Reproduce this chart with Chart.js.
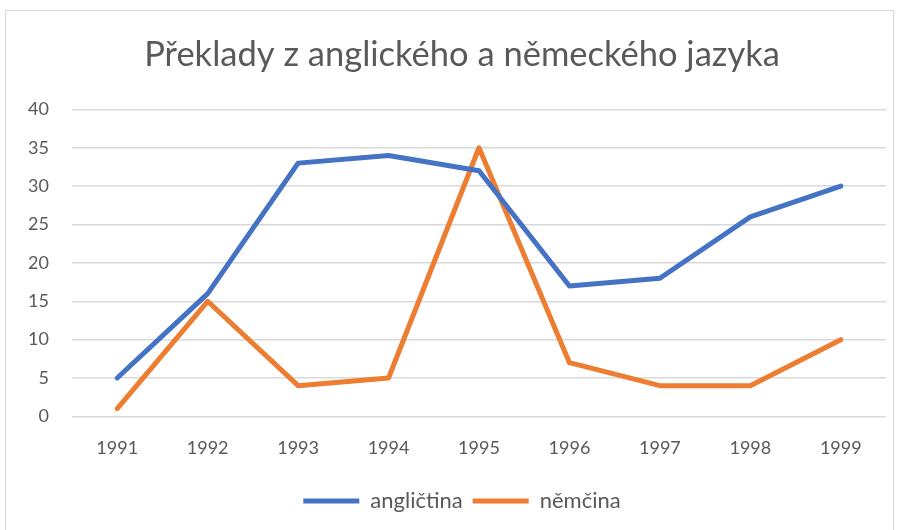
<!DOCTYPE html>
<html>
<head>
<meta charset="utf-8">
<script src="https://cdn.jsdelivr.net/npm/chart.js@4"></script>
<style>
html,body{margin:0;padding:0;background:#fff;}
#wrap{width:900px;height:530px;position:relative;}
</style>
</head>
<body>
<div id="wrap"><canvas id="c" width="900" height="530"></canvas></div>
<script>
const titleText = "Překlady z anglického a německého jazyka";
const categories = ["1991","1992","1993","1994","1995","1996","1997","1998","1999"];
const seriesNames = ["angličtina","němčina"];
const anglictina = [5,16,33,34,32,17,18,26,30];
const nemcina = [1,15,4,5,35,7,4,4,10];
const yTicks = [0,5,10,15,20,25,30,35,40];

const FONT = "Lato, 'Open Sans', sans-serif";
const TXT = "#595959";

const borderPlugin = {
  id: 'frame',
  beforeDraw(chart){
    const ctx = chart.ctx;
    ctx.save();
    ctx.fillStyle = '#fff';
    ctx.fillRect(0,0,chart.width,chart.height);
    ctx.strokeStyle = '#d9d9d9';
    ctx.lineWidth = 1;
    ctx.strokeRect(5.5,10.5,888,530);
    ctx.restore();
  }
};
// shift title and legend so they are centred like the reference
const shiftPlugin = {
  id: 'shift',
  afterLayout(chart){
    const dx = 19;
    [chart.titleBlock, chart.legend].forEach(b=>{ if(b){ b.left += dx; b.right += dx; } });
  }
};

new Chart(document.getElementById('c'), {
  type: 'line',
  data: {
    labels: categories,
    datasets: [
      {label: seriesNames[0], data: anglictina, borderColor:'#4472c4', backgroundColor:'#4472c4',
       borderWidth:5, pointRadius:0, borderCapStyle:'round', borderJoinStyle:'round', tension:0},
      {label: seriesNames[1], data: nemcina, borderColor:'#ed7d31', backgroundColor:'#ed7d31',
       borderWidth:5, pointRadius:0, borderCapStyle:'round', borderJoinStyle:'round', tension:0}
    ]
  },
  plugins:[borderPlugin, shiftPlugin],
  options: {
    responsive:false,
    animation:false,
    layout:{padding:{left:0,right:14,top:18,bottom:8}},
    plugins:{
      title:{display:true,text:titleText,color:TXT,font:{family:FONT,size:34.5,weight:'normal'},padding:{top:16,bottom:34}},
      legend:{position:'bottom',labels:{usePointStyle:true,pointStyle:'line',pointStyleWidth:56,color:TXT,font:{family:FONT,size:22},padding:10}},
      tooltip:{enabled:false}
    },
    scales:{
      x:{
        offset:true,
        grid:{display:false,drawTicks:false},
        border:{display:false},
        ticks:{color:TXT,font:{family:FONT,size:18},padding:21,maxRotation:0}
      },
      y:{
        min:0,max:40,
        afterFit(s){ s.width = 72; },
        afterBuildTicks(s){ s.ticks = yTicks.map(v=>({value:v})); },
        grid:{color:'#d9d9d9',lineWidth:1.5,drawTicks:false},
        border:{display:false},
        ticks:{color:TXT,font:{family:FONT,size:18},padding:23}
      }
    }
  }
});
</script>
</body>
</html>
